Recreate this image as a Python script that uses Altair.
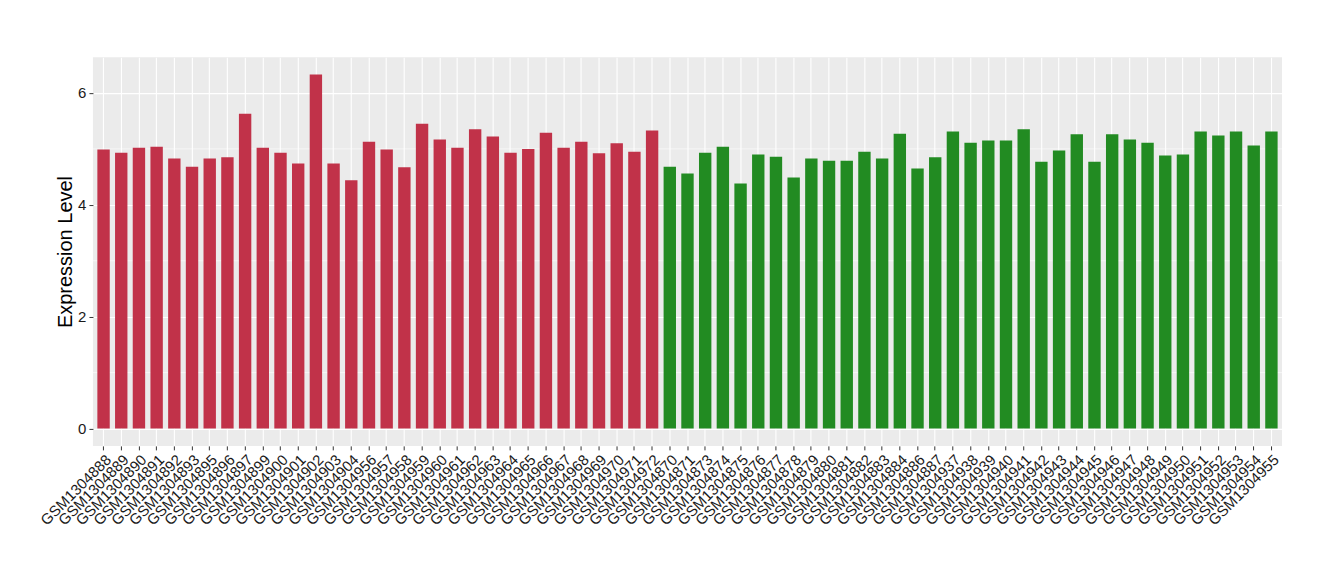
import altair as alt
import pandas as pd

red_samples = ["GSM1304888", "GSM1304889", "GSM1304890", "GSM1304891", "GSM1304892",
               "GSM1304893", "GSM1304895", "GSM1304896", "GSM1304897", "GSM1304899",
               "GSM1304900", "GSM1304901", "GSM1304902", "GSM1304903", "GSM1304904",
               "GSM1304956", "GSM1304957", "GSM1304958", "GSM1304959", "GSM1304960",
               "GSM1304961", "GSM1304962", "GSM1304963", "GSM1304964", "GSM1304965",
               "GSM1304966", "GSM1304967", "GSM1304968", "GSM1304969", "GSM1304970",
               "GSM1304971", "GSM1304972"]
red_values = [4.99, 4.93, 5.02, 5.04, 4.83, 4.68, 4.83, 4.85, 5.63, 5.02,
              4.93, 4.74, 6.33, 4.74, 4.44, 5.13, 4.99, 4.67, 5.45, 5.17,
              5.02, 5.35, 5.22, 4.93, 5.00, 5.29, 5.02, 5.13, 4.92, 5.10,
              4.95, 5.33]

green_samples = ["GSM1304870", "GSM1304871", "GSM1304873", "GSM1304874", "GSM1304875",
                 "GSM1304876", "GSM1304877", "GSM1304878", "GSM1304879", "GSM1304880",
                 "GSM1304881", "GSM1304882", "GSM1304883", "GSM1304884", "GSM1304886",
                 "GSM1304887", "GSM1304937", "GSM1304938", "GSM1304939", "GSM1304940",
                 "GSM1304941", "GSM1304942", "GSM1304943", "GSM1304944", "GSM1304945",
                 "GSM1304946", "GSM1304947", "GSM1304948", "GSM1304949", "GSM1304950",
                 "GSM1304951", "GSM1304952", "GSM1304953", "GSM1304954", "GSM1304955"]
green_values = [4.68, 4.56, 4.93, 5.04, 4.38, 4.90, 4.86, 4.49, 4.83, 4.79,
                4.79, 4.95, 4.83, 5.27, 4.65, 4.85, 5.31, 5.11, 5.15, 5.15,
                5.35, 4.77, 4.97, 5.26, 4.77, 5.26, 5.17, 5.11, 4.88, 4.90,
                5.31, 5.24, 5.31, 5.06, 5.31]

minor_grid = [1, 3, 5]
major_ticks = [0, 2, 4, 6]

df = pd.DataFrame({
    "sample": red_samples + green_samples,
    "value": red_values + green_values,
    "group": ["A"] * len(red_samples) + ["B"] * len(green_samples),
})
order = list(df["sample"])

W, H = 1190, 389
FONT = "Liberation Sans"

xscale = alt.Scale(domain=order, paddingInner=0.3, paddingOuter=0.25)
yscale = alt.Scale(domain=[-0.31, 6.64], nice=False, zero=False)

yaxis = alt.Axis(values=major_ticks, title="Expression Level",
                 titleFontSize=20, titleFont=FONT, titleFontWeight="normal",
                 titleColor="#000000", titleX=-27, titleBaseline="middle",
                 labelFontSize=15, labelFont=FONT, labelColor="#1a1a1a",
                 labelPadding=3, tickSize=4, tickColor="#333333",
                 domain=False, grid=True, gridColor="white", gridWidth=1.1)

minor = alt.Chart(pd.DataFrame({"v": minor_grid})).mark_rule(
    color="white", strokeWidth=0.6
).encode(y=alt.Y("v:Q", scale=yscale, axis=yaxis, title="Expression Level"))

bars = alt.Chart(df).mark_bar().encode(
    x=alt.X("sample:N", sort=order, scale=xscale,
            axis=alt.Axis(title=None, labelAngle=-45, labelAlign="right",
                          labelBaseline="top", labelFontSize=15, labelFont=FONT,
                          labelColor="#1a1a1a", labelPadding=2, tickSize=4,
                          tickColor="#333333", domain=False, grid=True,
                          gridColor="white", gridWidth=1.1, labelOverlap=False,
                          labelBound=False)),
    y=alt.Y("value:Q", scale=yscale, axis=yaxis, title="Expression Level"),
    color=alt.Color("group:N",
                    scale=alt.Scale(domain=["A", "B"], range=["#C13249", "#228B22"]),
                    legend=None),
)

chart = alt.layer(minor, bars).properties(
    width=W, height=H,
    autosize=alt.AutoSizeParams(type="none"),
    padding={"left": 85, "top": 49, "right": 50, "bottom": 120},
    background="white",
).configure_view(fill="#EBEBEB", strokeWidth=0)

chart.save("out.html", embed_options={"renderer": "svg", "actions": False})
